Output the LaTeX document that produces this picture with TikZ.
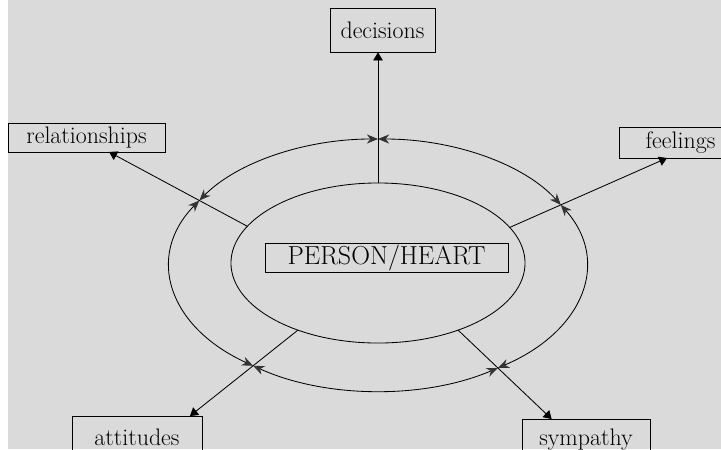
\documentclass[tikz,border=0pt]{standalone}
\usetikzlibrary{arrows.meta,shapes.geometric,calc}
\usepackage{xcolor}
\definecolor{paper}{RGB}{218,218,218}

\begin{document}
\begin{tikzpicture}[
  x=0.025cm, y=-0.025cm,
  box/.style={draw, line width=0.6pt, inner sep=0pt, align=center, font=\fontsize{17}{20}\selectfont},
  spoke/.style={line width=0.6pt, -{Triangle[length=2mm, width=2.4mm]}},
  ring/.style={line width=0.6pt, {Stealth[length=2.8mm, width=2.3mm, color=black!80]}-{Stealth[length=2.8mm, width=2.3mm, color=black!80]}}
]
\useasboundingbox (0,0) rectangle (721,449);
\fill[paper] (8,0) rectangle (721,449);

\coordinate (ic) at (378,263);
\coordinate (oc) at (378,265);

\node[draw, ellipse, line width=0.6pt, inner sep=0pt, minimum width=7.35cm, minimum height=4cm] (heart) at (ic) {};
\node[box, minimum width=6.075cm, minimum height=0.725cm, font=\fontsize{18.5}{21}\selectfont] (person) at (386.5,257.5) {PERSON/HEART};

\node[box, minimum width=2.625cm, minimum height=1.1cm] (dec) at (382.5,30) {decisions};
\node[box, minimum width=3.925cm, minimum height=0.725cm] (rel) at (86.5,137.5) {relationships};
\node[box, minimum width=3.075cm, minimum height=0.775cm] (fel) at (680.5,142.5) {feelings};
\node[box, minimum width=3.25cm, minimum height=1.05cm] (att) at (137,437) {attitudes};
\node[box, minimum width=3.2cm, minimum height=1.05cm] (sym) at (586,440) {sympathy};

% outer ring, arrows meet where the spokes cross
\foreach \a/\b in {270/331.5, 331.5/414.8, 414.8/486.9, 486.9/570.8, 570.8/630}
  \draw[ring] ($(oc)+(\a:208 and 126)$) arc[start angle=\a, end angle=\b, x radius=208, y radius=126];

% spokes
\coordinate (sdec) at ($(ic)+(270:147 and 80)$);
\draw[spoke] (sdec) -- (sdec |- dec.south);

\coordinate (srel) at ($(ic)+(207.3:147 and 80)$);
\coordinate (xrel) at ($(oc)+(210.8:208 and 126)$);
\coordinate (trel) at ($(srel)!2.88!(xrel)$);
\draw[spoke] (srel) -- (trel);

\coordinate (sfel) at ($(ic)+(333.6:147 and 80)$);
\coordinate (xfel) at ($(oc)+(331.5:208 and 126)$);
\coordinate (tfel) at ($(sfel)!3.08!(xfel)$);
\draw[spoke] (sfel) -- (tfel);

\coordinate (ssym) at ($(ic)+(57:147 and 80)$);
\coordinate (xsym) at ($(oc)+(54.8:208 and 126)$);
\coordinate (tsym) at ($(ssym)!2.35!(xsym)$);
\draw[spoke] (ssym) -- (tsym);

\coordinate (satt) at ($(ic)+(123:147 and 80)$);
\coordinate (xatt) at ($(oc)+(126.9:208 and 126)$);
\coordinate (tatt) at ($(satt)!2.41!(xatt)$);
\draw[spoke] (satt) -- (tatt);
\end{tikzpicture}
\end{document}
